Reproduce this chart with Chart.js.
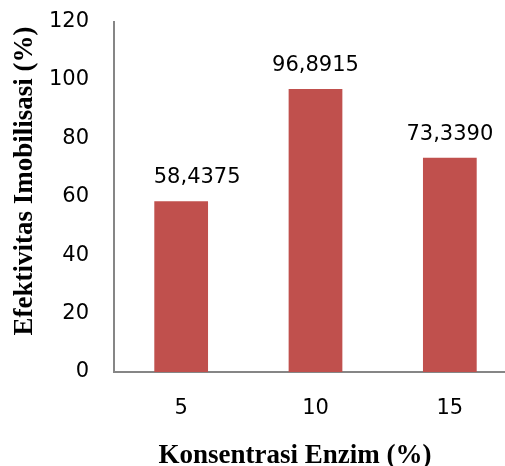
<!DOCTYPE html>
<html>
<head>
<meta charset="utf-8">
<script src="https://cdn.jsdelivr.net/npm/chart.js@4/dist/chart.umd.min.js"></script>
<style>
  html, body { margin: 0; padding: 0; background: #fff; overflow: hidden; }
  #wrap { width: 505px; height: 466px; overflow: hidden; position: relative; }
  #box { width: 518px; height: 474px; position: absolute; left: 0; top: -8px; }
</style>
</head>
<body>
<div id="wrap"><div id="box"><canvas id="c"></canvas></div></div>
<script>
// Enzyme concentration (%) vs immobilisation effectiveness (%)
const categories = ['5', '10', '15'];
const effectiveness = [58.4375, 96.8915, 73.3390];
const valueLabels = ['58,4375', '96,8915', '73,3390'];
const yTicks = [0, 20, 40, 60, 80, 100, 120];
const xTitle = 'Konsentrasi Enzim (%)';
const yTitle = 'Efektivitas Imobilisasi (%)';

const tickFont = { family: '"DejaVu Sans", sans-serif', size: 21 };
const titleFont = 'bold 27px "Liberation Serif", "Times New Roman", serif';
// the first value label was nudged to the right of its bar
const labelShift = [16, 0, 0];
const offsetY = 8; // canvas is shifted up by this much inside its frame

// Value labels above each bar
const barLabels = {
  id: 'barLabels',
  afterDatasetsDraw(chart) {
    const ctx = chart.ctx;
    const meta = chart.getDatasetMeta(0);
    ctx.save();
    ctx.font = `${tickFont.size}px ${tickFont.family}`;
    ctx.fillStyle = '#000';
    ctx.textAlign = 'center';
    ctx.textBaseline = 'alphabetic';
    meta.data.forEach((bar, i) => {
      ctx.fillText(valueLabels[i], bar.x + labelShift[i], bar.y - 18);
    });
    ctx.restore();
  }
};

// Axis titles
const axisTitles = {
  id: 'axisTitles',
  afterDraw(chart) {
    const ctx = chart.ctx;
    ctx.save();
    ctx.font = titleFont;
    ctx.fillStyle = '#000';
    ctx.textAlign = 'center';
    ctx.textBaseline = 'alphabetic';
    ctx.fillText(xTitle, 295, 463 + offsetY);
    ctx.translate(32, 181 + offsetY);
    ctx.rotate(-Math.PI / 2);
    ctx.fillText(yTitle, 0, 0);
    ctx.restore();
  }
};

new Chart(document.getElementById('c'), {
  type: 'bar',
  data: {
    labels: categories,
    datasets: [{
      data: effectiveness,
      backgroundColor: '#C0504D',
      borderWidth: 0,
      barPercentage: 1,
      categoryPercentage: 0.4
    }]
  },
  options: {
    responsive: true,
    maintainAspectRatio: false,
    animation: false,
    layout: { padding: { top: 6, right: 1, bottom: 0, left: 0 } },
    plugins: { legend: { display: false }, tooltip: { enabled: false } },
    scales: {
      x: {
        grid: { display: false },
        border: { display: true, color: '#868686', width: 2 },
        ticks: { font: tickFont, color: '#000', padding: 16 },
        afterFit(scale) { scale.height = 94; }
      },
      y: {
        min: 0,
        max: 120,
        afterBuildTicks(scale) { scale.ticks = yTicks.map(v => ({ value: v })); },
        grid: { display: false },
        border: { display: true, color: '#868686', width: 2 },
        ticks: { font: tickFont, color: '#000', padding: 17 },
        afterFit(scale) { scale.width = 114; }
      }
    }
  },
  plugins: [barLabels, axisTitles]
});
</script>
</body>
</html>
